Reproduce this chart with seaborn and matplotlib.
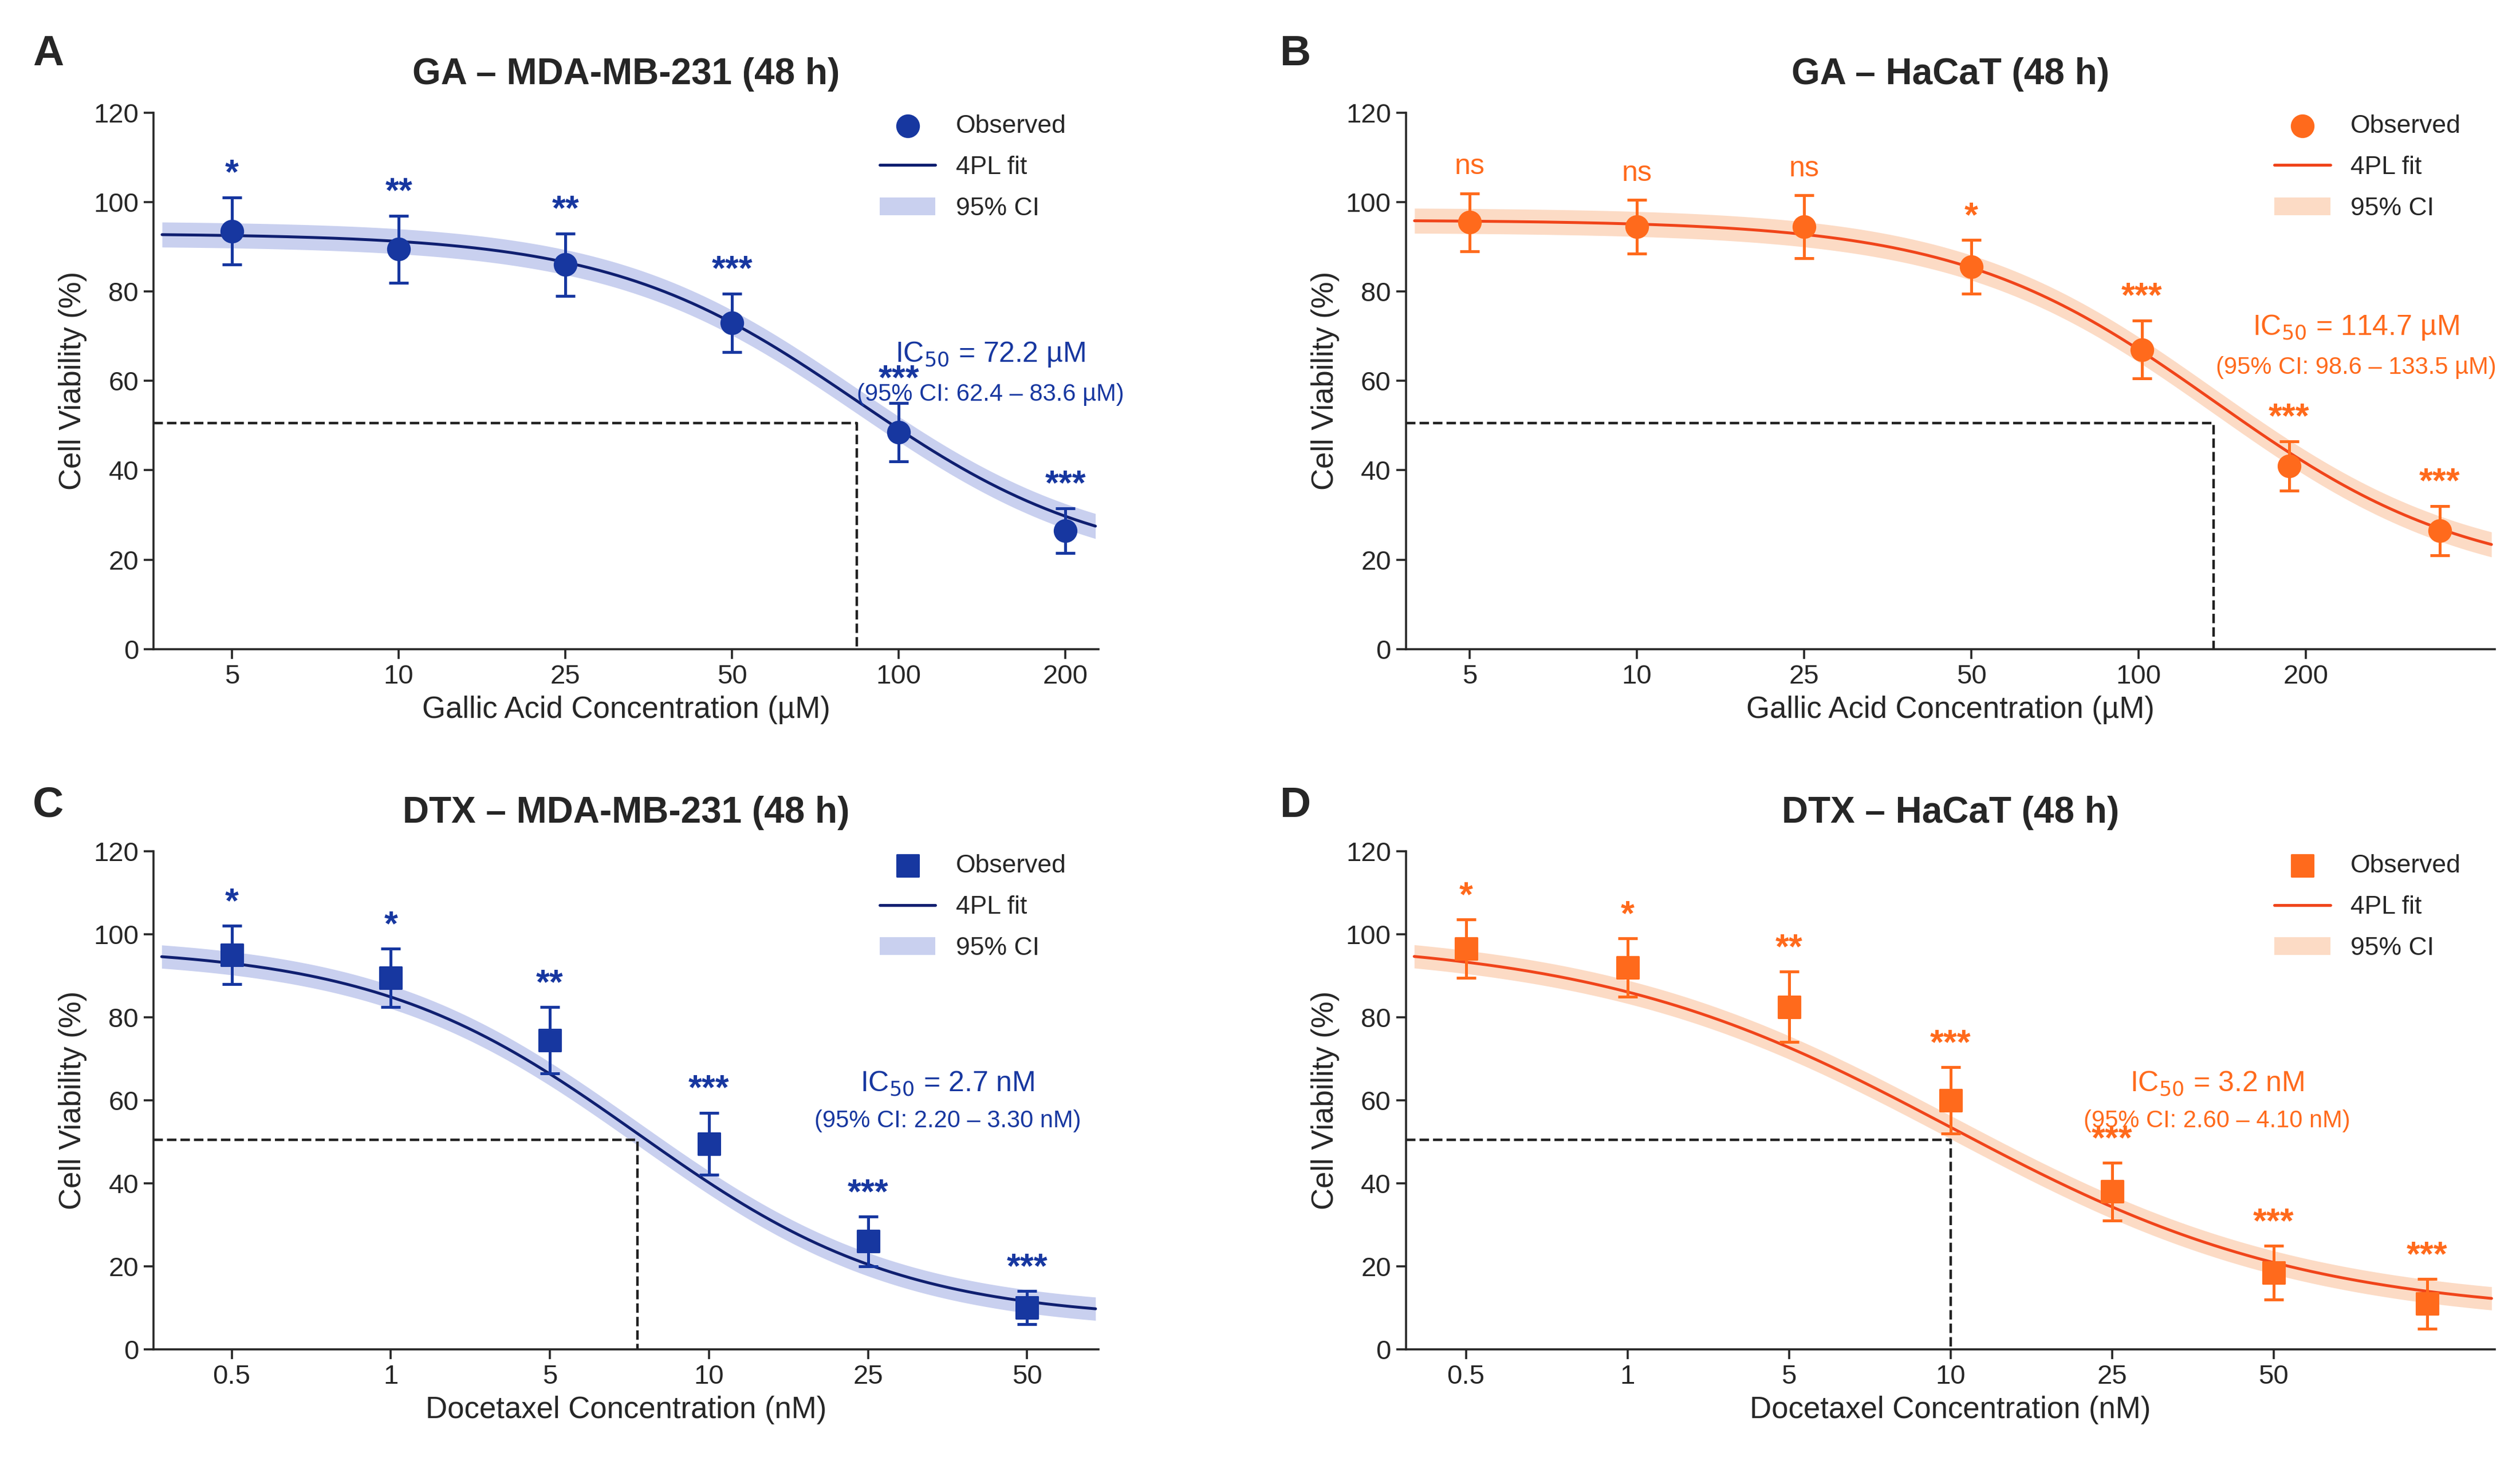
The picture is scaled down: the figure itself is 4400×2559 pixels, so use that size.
import numpy as np
import matplotlib
matplotlib.use("Agg")
import matplotlib.pyplot as plt
import seaborn as sns
import pandas as pd

sns.set_theme(style="ticks")
plt.rcParams['font.family'] = ['Liberation Sans', 'DejaVu Sans']

# ---- data ----
ga_ticks = ["5", "10", "25", "50", "100", "200"]
dtx_ticks = ["0.5", "1", "5", "10", "25", "50"]

A_pos = [0, 1, 2, 3, 4, 5]
A_val = [93.5, 89.5, 86, 73, 48.5, 26.5]
A_err = [7.5, 7.5, 7, 6.5, 6.5, 5]
A_sig = ["*", "**", "**", "***", "***", "***"]
A_fit = dict(top=93, bottom=18, x50=3.75, k=1.35)

B_pos = [0, 1, 2, 3, 4.02, 4.9, 5.8]
B_val = [95.5, 94.5, 94.5, 85.5, 67, 41, 26.5]
B_err = [6.5, 6, 7, 6, 6.5, 5.5, 5.5]
B_sig = ["ns", "ns", "ns", "*", "***", "***", "***"]
B_fit = dict(top=96, bottom=15, x50=4.45, k=1.3)

C_pos = [0, 1, 2, 3, 4, 5]
C_val = [95, 89.5, 74.5, 49.5, 26, 10]
C_err = [7, 7, 8, 7.5, 6, 4]
C_sig = ["*", "*", "**", "***", "***", "***"]
C_fit = dict(top=97, bottom=7, x50=2.55, k=1.2)

D_pos = [0, 1, 2, 3, 4, 5, 5.95]
D_val = [96.5, 92, 82.5, 60, 38, 18.5, 11]
D_err = [7, 7, 8.5, 8, 7, 6.5, 6]
D_sig = ["*", "*", "**", "***", "***", "***", "***"]
D_fit = dict(top=99, bottom=8, x50=3.0, k=0.9)

NAVY, NAVY_L, NAVY_B = "#1737a0", "#0f1f70", "#c3cbee"
ORG, ORG_L, ORG_B = "#ff6a1c", "#f0441a", "#fcd7bf"

panels = [
    ("A", "GA – MDA-MB-231 (48 h)", A_pos, A_val, A_err, A_sig, A_fit, ga_ticks, "Gallic Acid Concentration (µM)",
     "o", (NAVY, NAVY_L, NAVY_B), (-0.47, 5.2), "IC$_{50}$ = 72.2 µM", "(95% CI: 62.4 – 83.6 µM)", (4.55, 66)),
    ("B", "GA – HaCaT (48 h)", B_pos, B_val, B_err, B_sig, B_fit, ga_ticks, "Gallic Acid Concentration (µM)",
     "o", (ORG, ORG_L, ORG_B), (-0.38, 6.13), "IC$_{50}$ = 114.7 µM", "(95% CI: 98.6 – 133.5 µM)", (5.3, 72)),
    ("C", "DTX – MDA-MB-231 (48 h)", C_pos, C_val, C_err, C_sig, C_fit, dtx_ticks, "Docetaxel Concentration (nM)",
     "s", (NAVY, NAVY_L, NAVY_B), (-0.49, 5.45), "IC$_{50}$ = 2.7 nM", "(95% CI: 2.20 – 3.30 nM)", (4.5, 64)),
    ("D", "DTX – HaCaT (48 h)", D_pos, D_val, D_err, D_sig, D_fit, dtx_ticks, "Docetaxel Concentration (nM)",
     "s", (ORG, ORG_L, ORG_B), (-0.37, 6.37), "IC$_{50}$ = 3.2 nM", "(95% CI: 2.60 – 4.10 nM)", (4.65, 64)),
]

fig = plt.figure(figsize=(22, 12.795), dpi=200)
rects = [(0.061, 0.557, 0.375, 0.366), (0.558, 0.557, 0.432, 0.366),
         (0.061, 0.079, 0.375, 0.34), (0.558, 0.079, 0.432, 0.34)]
letter_xy = [(0.013, 0.963), (0.508, 0.963), (0.013, 0.45), (0.508, 0.45)]

for (letter, title, pos, val, err, sig, fit, ticks, xlabel, mk, cols, xlim, ic, ci, icpos), r, lxy in zip(panels, rects, letter_xy):
    c, cl, cb = cols
    ax = fig.add_axes(r)
    xs = np.linspace(xlim[0] + 0.05, xlim[1] - 0.02, 300)
    ys = fit["bottom"] + (fit["top"] - fit["bottom"]) / (1 + np.exp(fit["k"] * (xs - fit["x50"])))
    ax.fill_between(xs, ys - 2.8, ys + 2.8, color=cb, alpha=0.9, lw=0, label="95% CI")
    sns.lineplot(x=xs, y=ys, ax=ax, color=cl, lw=1.8, label="4PL fit")
    ax.errorbar(pos, val, yerr=err, fmt="none", ecolor=c, elinewidth=1.8, capsize=6, capthick=1.8, zorder=3)
    sns.scatterplot(x=pos, y=val, ax=ax, marker=mk, s=190, color=c, edgecolor=c, zorder=4, label="Observed")
    for p, v, e, s in zip(pos, val, err, sig):
        if s == "ns":
            ax.text(p, v + e + 3, s, ha="center", va="bottom", color=c, fontsize=18)
        else:
            ax.text(p, v + e + 1.5, s, ha="center", va="bottom", color=c, fontsize=22, fontweight="bold")
    ax.plot([xlim[0], fit["x50"], fit["x50"]], [50.5, 50.5, 0], ls="--", color="#222222", lw=1.6)
    ax.text(icpos[0], icpos[1], ic, color=c, fontsize=18, ha="center", va="center")
    ax.text(icpos[0], icpos[1] - 9, ci, color=c, fontsize=15, ha="center", va="center")
    ax.set_xlim(*xlim)
    ax.set_ylim(0, 120)
    ax.set_yticks(range(0, 121, 20))
    ax.set_xticks(range(len(ticks)))
    ax.set_xticklabels(ticks)
    ax.tick_params(labelsize=17, length=6, width=1.3)
    ax.set_xlabel(xlabel, fontsize=19)
    ax.set_ylabel("Cell Viability (%)", fontsize=19)
    ax.set_title(title, fontsize=23, fontweight="bold", pad=18)
    for sp in ["left", "bottom"]:
        ax.spines[sp].set_linewidth(1.3)
    sns.despine(ax=ax)
    h, l = ax.get_legend_handles_labels()
    order = [l.index("Observed"), l.index("4PL fit"), l.index("95% CI")]
    ax.legend([h[i] for i in order], [l[i] for i in order], loc="upper right", frameon=False,
              fontsize=16, bbox_to_anchor=(0.99, 1.04), handlelength=2.2, labelspacing=0.7)
    fig.text(lxy[0], lxy[1], letter, fontsize=27, fontweight="bold", va="center")

fig.savefig("out.png", dpi=200)
